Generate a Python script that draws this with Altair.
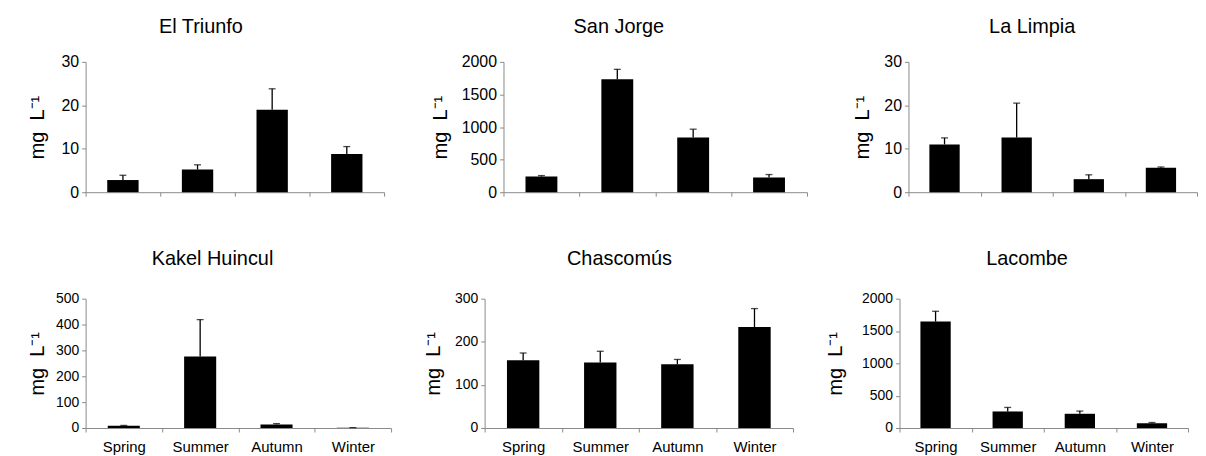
import altair as alt
import pandas as pd

FONT = "Liberation Sans"

sites = ["El Triunfo", "San Jorge", "La Limpia", "Kakel Huincul", "Chascomús", "Lacombe"]
seasons = ["Spring", "Summer", "Autumn", "Winter"]

el_triunfo = [2.8, 5.2, 19.0, 8.8]
el_triunfo_err = [1.1, 1.1, 4.8, 1.7]
san_jorge = [240, 1735, 838, 226]
san_jorge_err = [15, 150, 129, 45]
la_limpia = [11.0, 12.6, 3.0, 5.6]
la_limpia_err = [1.5, 7.9, 1.0, 0.2]
kakel_huincul = [9, 276, 14, 1]
kakel_huincul_err = [1, 143, 3, 0.5]
chascomus = [157, 152, 148, 234]
chascomus_err = [17, 26, 11, 43]
lacombe = [1645, 256, 220, 75]
lacombe_err = [160, 62, 42, 10]

means = [el_triunfo, san_jorge, la_limpia, kakel_huincul, chascomus, lacombe]
errs = [el_triunfo_err, san_jorge_err, la_limpia_err, kakel_huincul_err, chascomus_err, lacombe_err]
y_max = [30, 2000, 30, 500, 300, 2000]
y_step = [10, 500, 10, 100, 100, 500]

AXIS_GREY = "#8a8a8a"
Y_TITLE = "mg\u00a0\u00a0L⁻¹"


def panel(i, width, height, bottom, label_size, title_pad, title_offset, title_dx):
    df = pd.DataFrame({
        "season": seasons,
        "value": means[i],
        "upper": [m + e for m, e in zip(means[i], errs[i])],
    })
    x = alt.X(
        "season:N",
        sort=seasons,
        scale=alt.Scale(paddingInner=0, paddingOuter=0),
        axis=alt.Axis(
            title=None, labels=bottom, labelAngle=0, tickBand="extent",
            domainColor=AXIS_GREY, tickColor=AXIS_GREY, tickSize=4,
            labelFontSize=15, labelPadding=8, labelColor="black", labelFont=FONT,
        ),
    )
    y_axis = alt.Axis(
        title=Y_TITLE, values=list(range(0, y_max[i] + 1, y_step[i])), format="d",
        labelOverlap=False,
        domainColor=AXIS_GREY, tickColor=AXIS_GREY, tickSize=4,
        labelFontSize=label_size, labelPadding=3, labelColor="black", labelFont=FONT,
        titleFontSize=20, titleFont=FONT, titleFontWeight="normal", titleColor="black",
        titlePadding=title_pad, grid=False,
    )
    y_scale = alt.Scale(domain=[0, y_max[i]], nice=False)
    y = alt.Y("value:Q", scale=y_scale, axis=y_axis)
    y_up = alt.Y("upper:Q", scale=y_scale, axis=y_axis)
    bars = alt.Chart(df).mark_bar(color="black", width=alt.RelativeBandSize(0.42)).encode(x=x, y=y)
    err = alt.Chart(df).mark_rule(color="black", strokeWidth=1.3).encode(x=x, y=y, y2="upper:Q")
    cap = alt.Chart(df).mark_tick(color="black", thickness=1.3, size=7, orient="horizontal").encode(
        x=x, y=y_up)
    return alt.layer(bars, err, cap).properties(
        width=width, height=height,
        title=alt.Title(sites[i], fontSize=20, font=FONT, fontWeight="normal",
                        color="black", offset=title_offset, frame="bounds", dx=title_dx),
    )


row1 = alt.hconcat(
    panel(0, 300, 131, False, 16, 14, 17, -5),
    panel(1, 305, 131, False, 16, 11, 17, 0),
    panel(2, 290, 131, False, 16, 11, 17, 7),
    spacing=45,
)
row2 = alt.hconcat(
    panel(3, 307, 130, True, 14, 8, 23, 3),
    panel(4, 310, 130, True, 14, 11, 23, 11),
    panel(5, 290, 130, True, 14, 16, 23, 20),
    spacing=31,
)

chart = alt.concat(row1, row2, columns=1, spacing=49, align="none").properties(
    padding={"left": 19, "top": 8, "right": 0, "bottom": 0}
).configure_view(stroke=None).configure_axis(grid=False)

chart.save("out.html", embed_options={"renderer": "svg", "actions": False})
